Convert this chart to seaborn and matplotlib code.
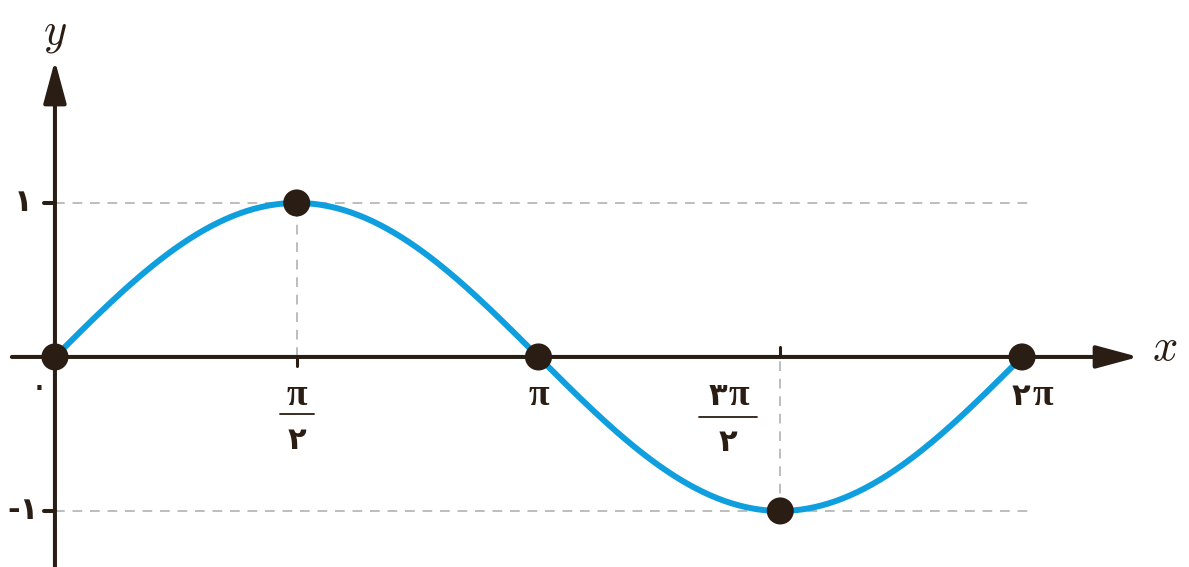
import numpy as np
import pandas as pd
import matplotlib
matplotlib.use("Agg")
import matplotlib.pyplot as plt
import seaborn as sns

# key points of y = sin x over one period
key_x = [0, np.pi / 2, np.pi, 3 * np.pi / 2, 2 * np.pi]
key_y = [0, 1, 0, -1, 0]
curve_x = np.linspace(0, 2 * np.pi, 400)
curve_y = np.sin(curve_x)

# tick labels (Persian digits)
zero_label = "۰"
y_labels = ["۱", "-۱"]
y_label_vals = [1, -1]

AXIS_C = "#2a1d14"
CURVE_C = "#0f9fdf"
GRID_C = "#bdbdbd"
FONTS = ["DejaVu Sans", "DejaVu Serif"]
PI_FONT = ["Liberation Serif", "DejaVu Serif"]

sns.set_style("white")
plt.rcParams["font.family"] = FONTS

fig = plt.figure(figsize=(11.89, 5.67), dpi=100)
ax = fig.add_axes([0, 0, 1, 1])
ax.set_xlim(-0.357, 7.368)
ax.set_ylim(-1.364, 2.318)
ax.axis("off")

# dashed guides
dash = dict(ls=(0, (5, 4)), color=GRID_C, lw=1.4, zorder=1)
ax.plot([0, 6.37], [1, 1], **dash)
ax.plot([0, 6.37], [-1, -1], **dash)
ax.plot([np.pi / 2] * 2, [0, 1], **dash)
ax.plot([3 * np.pi / 2] * 2, [-1, 0], **dash)

# axes with arrows
arrow = dict(arrowstyle="-|>,head_length=1.3,head_width=0.35",
             mutation_scale=20, lw=2.9, color=AXIS_C, shrinkA=0, shrinkB=0)
ax.annotate("", xy=(7.04, 0), xytext=(-0.28, 0), arrowprops=arrow, zorder=2)
ax.annotate("", xy=(0, 1.925), xytext=(0, -1.4), arrowprops=arrow, zorder=2)

# small ticks
for yv in y_label_vals:
    ax.plot([-0.07, 0], [yv, yv], color=AXIS_C, lw=2.9, zorder=2)
ax.plot([np.pi / 2] * 2, [0, -0.06], color=AXIS_C, lw=2.2, zorder=2)
ax.plot([3 * np.pi / 2] * 2, [0, 0.065], color=AXIS_C, lw=2.2, zorder=2)

# curve and points
sns.lineplot(x=curve_x, y=curve_y, color=CURVE_C, lw=4.3, ax=ax, zorder=3)
sns.scatterplot(x=key_x, y=key_y, color=AXIS_C, s=380, edgecolor="none",
                ax=ax, zorder=4)

fs = 22
PI = "π"
DIG = dict(fontsize=fs, va="center", color=AXIS_C, fontweight="bold")


def pi_label(xc, yc, digit=None):
    # digit (Persian) on the left, pi glyph on the right
    kw = dict(fontsize=fs + 5, va="center", color=AXIS_C,
              family=PI_FONT, fontweight="bold")
    if digit is None:
        ax.text(xc, yc, PI, ha="center", **kw)
    else:
        ax.text(xc + 0.005, yc, PI, ha="left", **kw)
        ax.text(xc - 0.005, yc - 0.005, digit, ha="right", **DIG)


# axis names
ax.text(7.21, 0.06, "$x$", fontsize=32, ha="center", va="center",
        color=AXIS_C, math_fontfamily="cm")
ax.text(0.0, 2.1, "$y$", fontsize=32, ha="center", va="center",
        color=AXIS_C, math_fontfamily="cm")

# x labels
ax.text(-0.1, -0.2, zero_label, fontsize=fs + 6, ha="center", va="center",
        color=AXIS_C)
pi_label(np.pi, -0.25)
pi_label(2 * np.pi + 0.06, -0.25, "۲")

# fractions
pi_label(np.pi / 2, -0.25)
ax.plot([np.pi / 2 - 0.11, np.pi / 2 + 0.11], [-0.37, -0.37], color=AXIS_C, lw=1.3)
ax.text(np.pi / 2, -0.545, "۲", ha="center", **DIG)

xc = 4.373
pi_label(xc, -0.25, "۳")
ax.plot([xc - 0.19, xc + 0.19], [-0.39, -0.39], color=AXIS_C, lw=1.3)
ax.text(xc, -0.555, "۲", ha="center", **DIG)

# y labels
for lab, yv in zip(y_labels, y_label_vals):
    ax.text(-0.21, yv, lab, ha="center", **DIG)

fig.savefig("out.png", dpi=100)
plt.close(fig)
